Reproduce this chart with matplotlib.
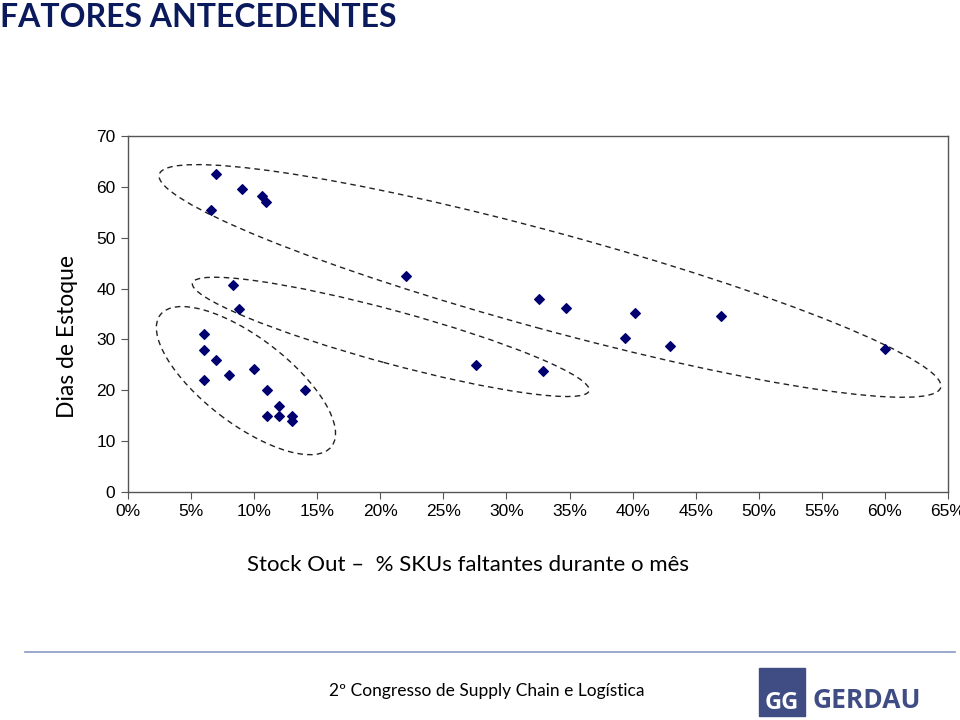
import matplotlib.pyplot as plt
from matplotlib.patches import Ellipse, Rectangle
from matplotlib.transforms import ScaledTranslation
from matplotlib.ticker import FuncFormatter, MultipleLocator

# % SKUs em falta (stock out) x dias de estoque
stock_out = [7.0, 9.0, 10.6, 10.9, 6.6, 8.3, 8.8, 6.0, 6.0, 7.0,
             8.0, 6.0, 10.0, 11.0, 14.0, 12.0, 11.0, 12.0, 13.0, 13.0,
             22.0, 27.6, 32.6, 34.7, 32.9, 40.2, 39.4, 43.0, 47.0, 60.0]
dias_estoque = [62.5, 59.5, 58.2, 57.1, 55.4, 40.8, 36.0, 31.0, 28.0, 26.0,
                23.0, 22.0, 24.1, 20.1, 20.1, 17.0, 15.0, 15.0, 15.0, 14.0,
                42.4, 24.9, 37.9, 36.2, 23.7, 35.1, 30.2, 28.7, 34.7, 28.1]

# grupos destacados: centro (x %, y dias), largura/altura em polegadas, angulo
grupos = [
    ((33.45, 41.5), 8.10, 0.97, -15.25),
    ((20.83, 30.5), 4.11, 0.53, -15.2),
    ((9.35, 21.9), 2.16, 0.86, -37.5),
]

navy = '#0b1a5c'
logo_blue = '#3f4d84'

fig = plt.figure(figsize=(9.6, 7.2), dpi=100)
ax = fig.add_axes([128 / 960, 1 - 492 / 720, 820 / 960, 356 / 720])

ax.scatter(stock_out, dias_estoque, marker='D', s=24, color='#000070', zorder=3)

for (cx, cy), w, h, ang in grupos:
    tr = fig.dpi_scale_trans + ScaledTranslation(cx, cy, ax.transData)
    ax.add_patch(Ellipse((0, 0), w, h, angle=ang, transform=tr, fill=False,
                         edgecolor='#222222', linewidth=1.0, linestyle=(0, (4, 3)),
                         clip_on=False))

ax.set_xlim(0, 65)
ax.set_ylim(0, 70)
ax.xaxis.set_major_locator(MultipleLocator(5))
ax.yaxis.set_major_locator(MultipleLocator(10))
ax.xaxis.set_major_formatter(FuncFormatter(lambda v, p: f'{v:.0f}%'))
for side in ax.spines.values():
    side.set_color('#555555')
    side.set_linewidth(1.0)
ax.tick_params(direction='out', length=5, color='#555555', labelsize=12.5,
               labelfontfamily='Liberation Sans', pad=4)

fig.text(68 / 960, 1 - 337 / 720, 'Dias de Estoque', rotation=90,
         ha='center', va='center', fontsize=16.5, family='Lato')
fig.text(468 / 960, 1 - 565 / 720, 'Stock Out –  % SKUs faltantes durante o mês',
         ha='center', va='center', fontsize=16, family='Lato')

fig.text(0.0, 1 - 27 / 720, 'FATORES ANTECEDENTES', ha='left', va='baseline',
         fontsize=23, fontweight='bold', family='Lato', color=navy)

fig.add_artist(plt.Line2D([25 / 960, 955 / 960], [1 - 652 / 720] * 2,
                          color='#8a9ac6', linewidth=1.2))
fig.text(487 / 960, 1 - 691 / 720, '2º Congresso de Supply Chain e Logística',
         ha='center', va='center', fontsize=12.5, family='Lato')

fig.add_artist(Rectangle((759 / 960, 1 - 716 / 720), 46 / 960, 48 / 720,
                         transform=fig.transFigure, color=logo_blue))
fig.text(782 / 960, 1 - 703 / 720, 'GG', ha='center', va='center', fontsize=17,
         fontweight='bold', family='Open Sans', color='white')
fig.text(813 / 960, 1 - 700 / 720, 'GERDAU', ha='left', va='center', fontsize=19,
         fontweight='bold', family='Open Sans', color=logo_blue)

fig.savefig('out.png', dpi=100)
